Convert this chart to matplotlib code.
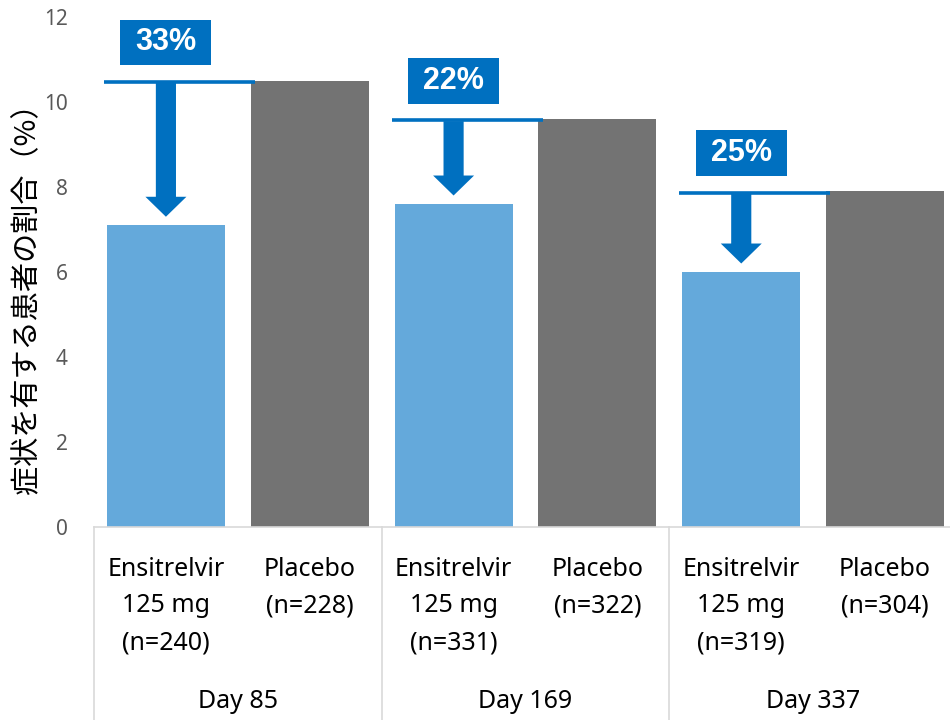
import matplotlib
matplotlib.use("Agg")
import matplotlib.pyplot as plt
import matplotlib.transforms as mtransforms
from matplotlib.patches import Rectangle, Polygon

# Data
days = ["Day 85", "Day 169", "Day 337"]
ensitrelvir = [7.1, 7.6, 6.0]
placebo = [10.5, 9.6, 7.9]
reductions = ["33%", "22%", "25%"]
ens_labels = ["Ensitrelvir\n125 mg\n(n=240)", "Ensitrelvir\n125 mg\n(n=331)", "Ensitrelvir\n125 mg\n(n=319)"]
pbo_labels = ["Placebo\n(n=228)", "Placebo\n(n=322)", "Placebo\n(n=304)"]
yticks = [0, 2, 4, 6, 8, 10, 12]
ylabel = "症状を有する患者の割合（%）"

C_ENS = "#64A9DB"
C_PBO = "#737373"
C_ARROW = "#0070C0"
C_GRID = "#D9D9D9"

W, H = 950, 720
fig = plt.figure(figsize=(W / 100, H / 100), dpi=100)
ax = fig.add_axes([94 / W, (H - 527) / H, (957 - 94) / W, 510 / H])

n = len(days)
ens_x = [2 * i for i in range(n)]
pbo_x = [2 * i + 1 for i in range(n)]
bw = 0.82

ax.bar(ens_x, ensitrelvir, width=bw, color=C_ENS, zorder=2)
ax.bar(pbo_x, placebo, width=bw, color=C_PBO, zorder=2)

ax.set_xlim(-0.5, 2 * n - 0.5)
ax.set_ylim(0, 12)
ax.set_yticks(yticks)
ax.set_yticklabels([str(t) for t in yticks], fontsize=15, color="#595959",
                   family=["Noto Sans", "DejaVu Sans"])
ax.tick_params(axis="y", length=0, pad=19)
ax.set_xticks([])
for s in ["top", "right", "left"]:
    ax.spines[s].set_visible(False)
ax.spines["bottom"].set_color(C_GRID)
ax.spines["bottom"].set_linewidth(1.2)

# Reduction markers: line at placebo level, arrow down to ensitrelvir bar, labelled box
for i in range(n):
    xe, xp = ens_x[i], pbo_x[i]
    yp, ye = placebo[i], ensitrelvir[i]
    ax.plot([xe - bw / 2 - 0.02, xp - bw / 2 + 0.03], [yp - 0.03, yp - 0.03],
            color=C_ARROW, lw=2.6, solid_capstyle="butt", zorder=3)
    shaft_w = 0.14
    head_w = 0.285
    head_len = 0.47
    tip = ye + 0.2
    top = yp - 0.05
    pts = [
        (xe - shaft_w / 2, top), (xe + shaft_w / 2, top),
        (xe + shaft_w / 2, tip + head_len), (xe + head_w / 2, tip + head_len),
        (xe, tip),
        (xe - head_w / 2, tip + head_len), (xe - shaft_w / 2, tip + head_len),
    ]
    ax.add_patch(Polygon(pts, closed=True, facecolor=C_ARROW, edgecolor="none", zorder=3))
    bx_w, bx_h = 0.633, 1.08
    bx_y = yp + 0.36
    ax.add_patch(Rectangle((xe - bx_w / 2, bx_y), bx_w, bx_h, facecolor=C_ARROW,
                           edgecolor="none", zorder=3, clip_on=False))
    ax.text(xe, bx_y + bx_h / 2, reductions[i], color="white", fontsize=22,
            fontweight="bold", family=["Liberation Sans", "DejaVu Sans"],
            ha="center", va="center", zorder=4)

# Category table below the axis
trans = mtransforms.blended_transform_factory(ax.transData, fig.transFigure)
base = (H - 527) / H
for k in range(n + 1):
    xs = 2 * k - 0.5
    ax.plot([xs, xs], [0, base], color=C_GRID, lw=1.2, transform=trans, clip_on=False)

line_y = [569, 606, 643]
txt_font = ["Noto Sans", "DejaVu Sans"]
for i in range(n):
    for lab, xc in ((ens_labels[i], ens_x[i]), (pbo_labels[i], pbo_x[i])):
        for j, part in enumerate(lab.split("\n")):
            ax.text(xc, (H - line_y[j]) / H, part, transform=trans, ha="center",
                    va="center", fontsize=18, color="black", family=txt_font)
    ax.text((ens_x[i] + pbo_x[i]) / 2, (H - 702) / H, days[i], transform=trans,
            ha="center", va="center", fontsize=18, color="black", family=txt_font)

fig.text(27 / W, (H - 291) / H, ylabel, rotation=90, ha="center", va="center",
         fontsize=21, color="black", family=["Noto Sans CJK JP", "DejaVu Sans"])

fig.savefig("out.png", dpi=100)
